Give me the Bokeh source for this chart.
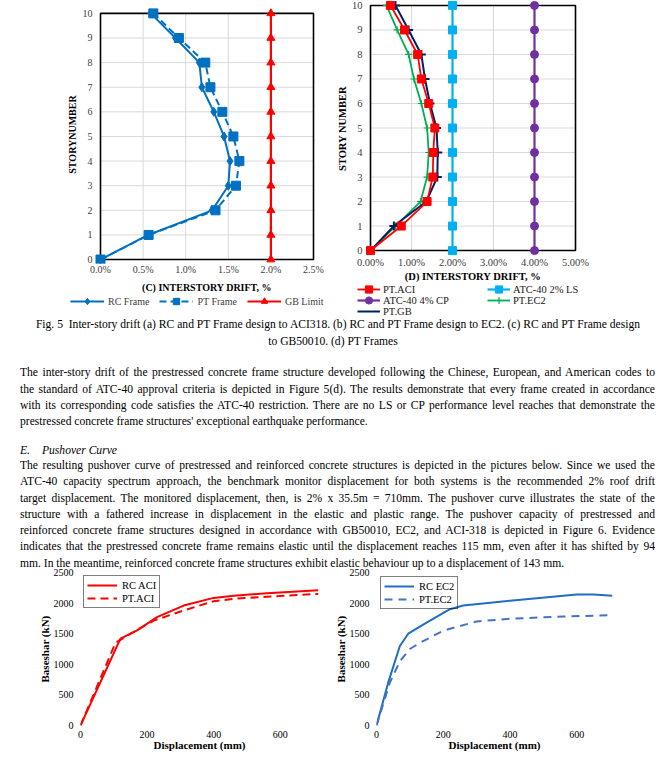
from bokeh.plotting import figure
from bokeh.models import Range1d, FixedTicker, PrintfTickFormatter, Legend, LegendItem, Div
from bokeh.layouts import column, row
from bokeh.embed import file_html
from bokeh.resources import INLINE

SERIF = "Liberation Serif"

# ---------------- data ----------------
stories = [0, 1, 2, 3, 4, 5, 6, 7, 8, 9, 10]
c_xticks = [0.0, 0.5, 1.0, 1.5, 2.0, 2.5]
d_xticks = [0.0, 1.0, 2.0, 3.0, 4.0, 5.0]

c_rc_frame = [0.0, 0.56, 1.31, 1.50, 1.52, 1.45, 1.33, 1.19, 1.16, 0.88, 0.59]
c_pt_frame = [0.0, 0.565, 1.35, 1.59, 1.63, 1.56, 1.43, 1.29, 1.23, 0.92, 0.62]
c_gb_limit = [2.0, 2.0, 2.0, 2.0, 2.0, 2.0, 2.0, 2.0, 2.0, 2.0, 2.0]

d_pt_aci = [0.0, 0.75, 1.38, 1.52, 1.53, 1.57, 1.42, 1.24, 1.15, 0.83, 0.49]
d_atc_ls = [2.0, 2.0, 2.0, 2.0, 2.0, 2.0, 2.0, 2.0, 2.0, 2.0, 2.0]
d_atc_cp = [4.0, 4.0, 4.0, 4.0, 4.0, 4.0, 4.0, 4.0, 4.0, 4.0, 4.0]
d_pt_ec2 = [0.0, 0.61, 1.22, 1.38, 1.42, 1.38, 1.24, 1.06, 0.93, 0.65, 0.39]
d_pt_gb = [0.0, 0.57, 1.36, 1.63, 1.64, 1.61, 1.45, 1.33, 1.24, 0.93, 0.61]

base_ticks = [0, 500, 1000, 1500, 2000, 2500]
disp_ticks = [0, 200, 400, 600]

a_rc_disp = [0, 120, 170, 230, 310, 400, 460, 560, 715]
a_rc_base = [0, 1420, 1555, 1770, 1960, 2085, 2120, 2160, 2210]
a_pt_disp = [0, 105, 160, 220, 310, 400, 460, 560, 715]
a_pt_base = [0, 1350, 1530, 1715, 1880, 2030, 2070, 2105, 2150]

b_rc_disp = [0, 35, 70, 95, 150, 220, 260, 400, 600, 650, 707]
b_rc_base = [0, 700, 1300, 1500, 1680, 1900, 1960, 2040, 2140, 2140, 2120]
b_pt_disp = [0, 40, 70, 100, 130, 200, 300, 400, 560, 707]
b_pt_base = [0, 700, 1050, 1250, 1350, 1550, 1700, 1745, 1780, 1805]

caption_lines = [
    "Fig. 5&nbsp;&nbsp;Inter-story drift (a) RC and PT Frame design to ACI318. (b) RC and PT Frame design to EC2. (c) RC and PT Frame design",
    "to GB50010. (d) PT Frames",
]
para1_lines = [
    "The inter-story drift of the prestressed concrete frame structure developed following the Chinese, European, and American codes to",
    "the standard of ATC-40 approval criteria is depicted in Figure 5(d). The results demonstrate that every frame created in accordance",
    "with its corresponding code satisfies the ATC-40 restriction. There are no LS or CP performance level reaches that demonstrate the",
    "prestressed concrete frame structures' exceptional earthquake performance.",
]
heading = ["E.", "Pushover Curve"]
para2_lines = [
    "The resulting pushover curve of prestressed and reinforced concrete structures is depicted in the pictures below. Since we used the",
    "ATC-40 capacity spectrum approach, the benchmark monitor displacement for both systems is the recommended 2% roof drift",
    "target displacement. The monitored displacement, then, is 2% x 35.5m = 710mm. The pushover curve illustrates the state of the",
    "structure with a fathered increase in displacement in the elastic and plastic range. The pushover capacity of prestressed and",
    "reinforced concrete frame structures designed in accordance with GB50010, EC2, and ACI-318 is depicted in Figure 6. Evidence",
    "indicates that the prestressed concrete frame remains elastic until the displacement reaches 115 mm, even after it has shifted by 94",
    "mm. In the meantime, reinforced concrete frame structures exhibit elastic behaviour up to a displacement of 143 mm.",
]

TOP_H = 320


def padded(lo, hi, px, pad_lo, pad_hi):
    per = px / (hi - lo)
    return Range1d(lo - pad_lo / per, hi + pad_hi / per)


def style_axis(ax, tick_size, label_size, tick_color, tick_standoff, label_standoff):
    ax.axis_line_color = None
    ax.major_tick_line_color = None
    ax.minor_tick_line_color = None
    ax.major_tick_out = 0
    ax.major_tick_in = 0
    ax.minor_tick_out = 0
    ax.minor_tick_in = 0
    ax.major_label_text_font = SERIF
    ax.major_label_text_font_size = tick_size
    ax.major_label_text_color = tick_color
    ax.major_label_standoff = tick_standoff
    ax.axis_label_text_font = SERIF
    ax.axis_label_text_font_size = label_size
    ax.axis_label_text_font_style = "bold"
    ax.axis_label_text_color = "#000000"
    ax.axis_label_standoff = label_standoff


def drift_frame(p, xticks):
    inner_x = xticks[1:-1]
    inner_y = stories[1:-1]
    p.segment(x0=inner_x, x1=inner_x, y0=min(stories), y1=max(stories),
              line_color="#D9D9D9", line_width=1)
    p.segment(x0=min(xticks), x1=max(xticks), y0=inner_y, y1=inner_y,
              line_color="#D9D9D9", line_width=1)
    p.quad(left=min(xticks), right=max(xticks), bottom=min(stories), top=max(stories),
           fill_alpha=0, line_color="#000000", line_width=1.6)


def legend_strip(width, height):
    q = figure(width=width, height=height, output_backend="svg", toolbar_location=None,
               x_range=Range1d(0, 1), y_range=Range1d(0, 1), x_axis_type=None, y_axis_type=None,
               min_border_left=0, min_border_right=0, min_border_top=0, min_border_bottom=0,
               frame_align=False)
    q.outline_line_color = None
    q.grid.visible = False
    q.background_fill_color = None
    q.border_fill_color = None
    return q


def strip_item(q, label, vals, line_kw, marker_kw=None):
    # hidden copies of the series, used only so the legend can draw its keys
    rs = [q.line(vals, stories, visible=False, **line_kw)]
    if marker_kw:
        rs.append(q.scatter(vals, stories, visible=False, **marker_kw))
    return LegendItem(label=label, renderers=rs)


# ---------------- chart C ----------------
C_H = 295
pC = figure(width=330, height=C_H, output_backend="svg", toolbar_location=None, frame_align=False,
            x_range=padded(0, 2.5, 213, 8, 8), y_range=padded(0, 10, 250, 4, 8),
            min_border_left=92, min_border_right=9, min_border_top=5, min_border_bottom=C_H - 267)
pC.outline_line_color = None
pC.grid.visible = False
pC.background_fill_color = None
pC.border_fill_color = None
drift_frame(pC, c_xticks)

blue = "#0070C0"
c_series = [("RC Frame", c_rc_frame), ("PT Frame", c_pt_frame), ("GB Limit", c_gb_limit)]
c_styles = {
    "RC Frame": (dict(line_color=blue, line_width=2), dict(marker="diamond", size=9, color=blue)),
    "PT Frame": (dict(line_color=blue, line_width=2, line_dash="7 4"), dict(marker="square", size=9, color=blue)),
    "GB Limit": (dict(line_color="#FF0000", line_width=2.2), dict(marker="triangle", size=8, color="#FF0000")),
}
for key, vals in c_series:
    lk, mk = c_styles[key]
    pC.line(vals, stories, **lk)
    pC.scatter(vals, stories, **mk)

pC.xaxis.ticker = FixedTicker(ticks=c_xticks)
pC.xaxis.formatter = PrintfTickFormatter(format="%.1f%%")
pC.yaxis.ticker = FixedTicker(ticks=stories)
pC.xaxis.axis_label = "(C) INTERSTORY DRIFT, %"
pC.yaxis.axis_label = "STORYNUMBER"
style_axis(pC.xaxis[0], "10px", "10px", "#404040", 0, 4)
style_axis(pC.yaxis[0], "10px", "10px", "#404040", 0, 2)

# legend strip for C (sits right under chart C)
CL_H = TOP_H - C_H
qC = legend_strip(330, CL_H)
itemsC = [strip_item(qC, key, vals, *c_styles[key]) for key, vals in c_series]
qC.add_layout(Legend(items=itemsC, location=(70, CL_H - (6 + 8)), orientation="horizontal",
                     glyph_width=34, glyph_height=16, label_height=16, label_standoff=4, spacing=10,
                     padding=0, margin=0, border_line_color=None, background_fill_alpha=0,
                     inactive_fill_alpha=0,
                     label_text_font=SERIF, label_text_font_size="10px", label_text_color="#404040"))

# ---------------- chart D ----------------
D_H = 284
pD = figure(width=324, height=D_H, output_backend="svg", toolbar_location=None, frame_align=False,
            x_range=padded(0, 5, 205, 8, 8), y_range=padded(0, 10, 248, 6, 5),
            min_border_left=32, min_border_right=71, min_border_top=0, min_border_bottom=D_H - 259)
pD.outline_line_color = None
pD.grid.visible = False
pD.background_fill_color = None
pD.border_fill_color = None
drift_frame(pD, d_xticks)

cyan, purple, green, navy, red = "#00B0F0", "#7030A0", "#00B050", "#002060", "#FF0000"
d_series = {"ATC-40 2% LS": d_atc_ls, "ATC-40 4% CP": d_atc_cp, "PT.EC2": d_pt_ec2,
            "PT.GB": d_pt_gb, "PT.ACI": d_pt_aci}
d_styles = {
    "ATC-40 2% LS": (dict(line_color=cyan, line_width=2.2), dict(marker="square", size=8, color=cyan)),
    "ATC-40 4% CP": (dict(line_color=purple, line_width=2.2), dict(marker="circle", size=8, color=purple)),
    "PT.EC2": (dict(line_color=green, line_width=1.8), dict(marker="cross", size=7, line_color=green, line_width=1.2)),
    "PT.GB": (dict(line_color=navy, line_width=2), dict(marker="cross", size=9, line_color=navy, line_width=2)),
    "PT.ACI": (dict(line_color=red, line_width=1.8), dict(marker="square", size=8, color=red)),
}
for key, vals in d_series.items():
    lk, mk = d_styles[key]
    pD.line(vals, stories, **lk)
    pD.scatter(vals, stories, **mk)

pD.xaxis.ticker = FixedTicker(ticks=d_xticks)
pD.xaxis.formatter = PrintfTickFormatter(format="%.2f%%")
pD.yaxis.ticker = FixedTicker(ticks=stories)
pD.xaxis.axis_label = "(D) INTERSTORY DRIFT, %"
pD.yaxis.axis_label = "STORY NUMBER"
style_axis(pD.xaxis[0], "10.5px", "10.5px", "#404040", 0, 0)
style_axis(pD.yaxis[0], "10.5px", "10.5px", "#404040", 0, 1)

# legend strip for D: two columns, three rows
DL_H = TOP_H - D_H
qD = legend_strip(324, DL_H)
d_key_layout = [
    ("PT.ACI", 27, 5, True), ("ATC-40 2% LS", 157, 5, True),
    ("ATC-40 4% CP", 27, 16, True), ("PT.EC2", 157, 16, True),
    ("PT.GB", 27, 27, False),
]
for key, kx, ky, with_marker in d_key_layout:
    lk, mk = d_styles[key]
    item = strip_item(qD, key, d_series[key], lk, mk if with_marker else None)
    qD.add_layout(Legend(items=[item], location=(kx, DL_H - (ky + 9)),
                         glyph_width=23, glyph_height=18, label_height=18, label_standoff=3,
                         padding=0, margin=0, spacing=0, border_line_color=None, background_fill_alpha=0,
                         inactive_fill_alpha=0,
                         label_text_font=SERIF, label_text_font_size="10.5px", label_text_color="#202020"))


# ---------------- pushover charts ----------------
def pushover(width, xmax, mb_left, mb_right):
    p = figure(width=width, height=188, output_backend="svg", toolbar_location=None, frame_align=False,
               x_range=Range1d(0, xmax), y_range=Range1d(0, 2500),
               min_border_left=mb_left, min_border_right=mb_right, min_border_top=7, min_border_bottom=25)
    p.outline_line_color = None
    p.grid.visible = False
    p.background_fill_color = None
    p.border_fill_color = None
    p.xaxis.ticker = FixedTicker(ticks=disp_ticks)
    p.yaxis.ticker = FixedTicker(ticks=base_ticks)
    p.xaxis.axis_label = "Displacement (mm)"
    p.yaxis.axis_label = "Baseshar (kN)"
    style_axis(p.xaxis[0], "10px", "11px", "#000000", 5, -2)
    style_axis(p.yaxis[0], "10px", "11px", "#000000", 7, 0)
    return p


def box_legend(p, items, margin):
    p.add_layout(Legend(items=items, location="top_left", margin=margin, padding=3, spacing=1,
                        glyph_width=30, glyph_height=12, label_height=12, label_standoff=5,
                        border_line_color="#000000", border_line_width=1.5, background_fill_alpha=0,
                        label_text_font=SERIF, label_text_font_size="10.5px", label_text_color="#000000"))


pA = pushover(330, 715, 80, 12)
aR = pA.line(a_rc_disp, a_rc_base, line_color="#FF0000", line_width=2)
aP = pA.line(a_pt_disp, a_pt_base, line_color="#FF0000", line_width=2, line_dash="8 5")
box_legend(pA, [LegendItem(label="RC ACI", renderers=[aR]), LegendItem(label="PT.ACI", renderers=[aP])], 3)

pB = pushover(324, 707, 46, 42)
bR = pB.line(b_rc_disp, b_rc_base, line_color="#1F6EC4", line_width=2)
bP = pB.line(b_pt_disp, b_pt_base, line_color="#4472C4", line_width=2, line_dash="8 6")
box_legend(pB, [LegendItem(label="RC EC2", renderers=[bR]), LegendItem(label="PT.EC2", renderers=[bP])], 4)

# ---------------- text block ----------------
DIV_TOP = TOP_H   # page y of the text block
DIV_H = 565 - TOP_H
SX = 0.965


def line_html(text, center, left=20, width=635, align="justify", origin="0 0", italic=False):
    top = center - 8 - DIV_TOP
    w = width / SX
    style = (f"position:absolute;left:{left}px;top:{top}px;width:{w:.1f}px;height:16px;line-height:16px;"
             f"white-space:nowrap;text-align:{align};text-align-last:{align};"
             f"transform:scaleX({SX});transform-origin:{origin};")
    if italic:
        style += "font-style:italic;"
    return f'<div style="{style}">{text}</div>'


parts = []
parts.append(line_html(caption_lines[0], 324, left=8, width=660 * SX, align="center", origin="50% 0"))
parts.append(line_html(caption_lines[1], 341, left=3, width=660 * SX, align="center", origin="50% 0"))
for txt, c in zip(para1_lines, [372, 389, 405, 421]):
    parts.append(line_html(txt, c, align="justify" if txt != para1_lines[-1] else "left"))
parts.append(line_html(heading[0], 450, left=20, width=30, align="left", italic=True))
parts.append(line_html(heading[1], 450, left=42, width=200, align="left", italic=True))
for txt, c in zip(para2_lines, [465, 481, 498, 514, 530, 546, 563]):
    parts.append(line_html(txt, c, align="justify" if txt != para2_lines[-1] else "left"))

font_stack = "'Liberation Serif', 'Times New Roman', serif"
html = (f'<div style="position:relative;width:662px;height:{DIV_H}px;overflow:visible;'
        f'font-family:{font_stack};font-size:12px;color:#000;">' + "".join(parts) + "</div>")
text_div = Div(text=html, width=662, height=DIV_H, margin=0, styles={"overflow": "visible"})

layout = column(row(column(pC, qC), column(pD, qD)), text_div, row(pA, pB))

open("out.html", "w").write(file_html(layout, INLINE))
